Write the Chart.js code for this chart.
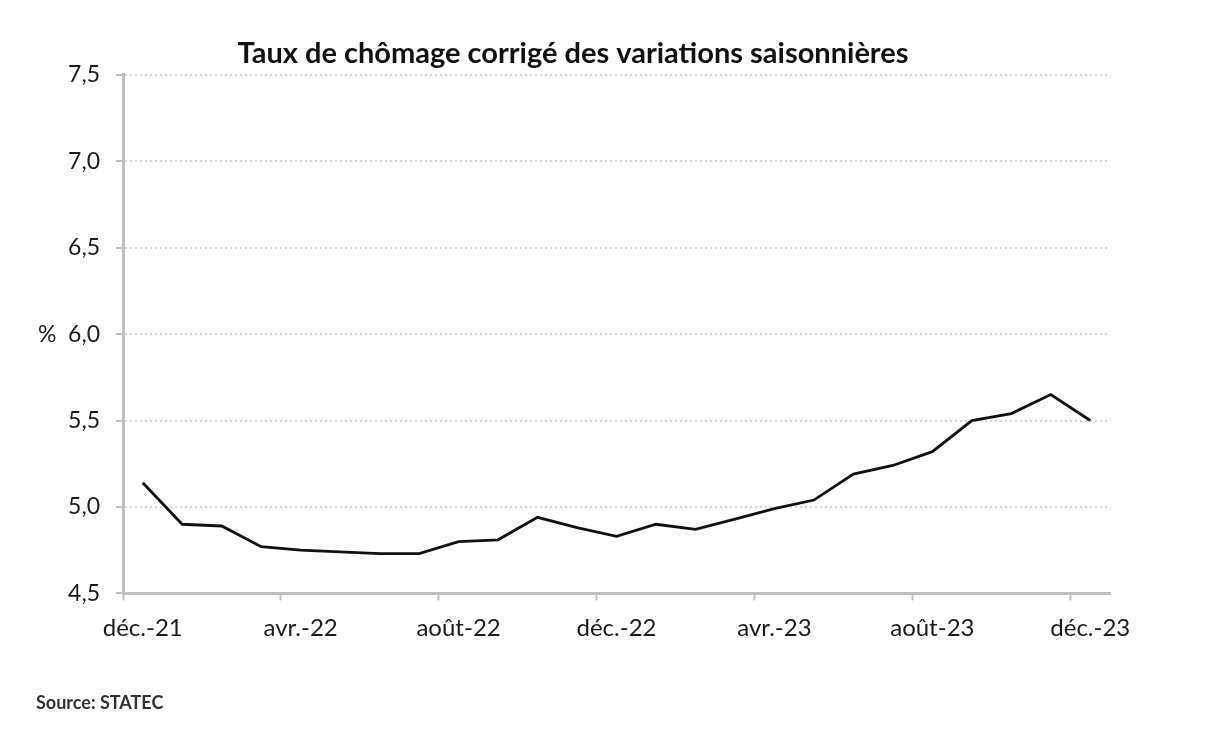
<!DOCTYPE html>
<html lang="fr">
<head>
<meta charset="utf-8">
<title>Taux de chômage</title>
<script src="https://cdn.jsdelivr.net/npm/chart.js@4.4.0/dist/chart.umd.min.js"></script>
<style>
    html, body { margin: 0; padding: 0; background: #ffffff; }
    canvas { display: block; }
</style>
</head>
<body>
<canvas id="chomage" width="1224" height="729"></canvas>
<script>
// months from déc.-21 to déc.-23
var months = [
    "déc.-21", "janv.-22", "févr.-22", "mars-22", "avr.-22", "mai-22", "juin-22",
    "juil.-22", "août-22", "sept.-22", "oct.-22", "nov.-22", "déc.-22",
    "janv.-23", "févr.-23", "mars-23", "avr.-23", "mai-23", "juin-23",
    "juil.-23", "août-23", "sept.-23", "oct.-23", "nov.-23", "déc.-23"
];

// unemployment rate, seasonally adjusted (%)
var tauxCvs = [
    5.14, 4.90, 4.89, 4.77, 4.75, 4.74, 4.73,
    4.73, 4.80, 4.81, 4.94, 4.88, 4.83,
    4.90, 4.87, 4.93, 4.99, 5.04, 5.19,
    5.24, 5.32, 5.50, 5.54, 5.65, 5.50
];

var yMin = 4.5;
var yMax = 7.5;
var yStep = 0.5;
var labelEvery = 4;

var titre = "Taux de chômage corrigé des variations saisonnières";
var source = "Source: STATEC";

var FONT = "Lato, 'Open Sans', sans-serif";
var AXIS_GREY = "#bfbfbf";

function frNumber(v) {
    return v.toFixed(1).replace(".", ",");
}

// only every 4th month gets a tick mark
function tickShown(ctx) {
    return ctx.index !== undefined && ctx.index % labelEvery === 0;
}

new Chart(document.getElementById("chomage"), {
    type: "line",
    data: {
        labels: months,
        datasets: [{
            label: "Taux de chômage",
            data: tauxCvs,
            borderColor: "#111111",
            borderWidth: 2.8,
            pointRadius: 0,
            tension: 0,
            fill: false
        }]
    },
    options: {
        responsive: false,
        animation: false,
        devicePixelRatio: 1,
        layout: {
            padding: { left: 36, right: 114, top: 0, bottom: 0 }
        },
        plugins: {
            legend: { display: false },
            tooltip: { enabled: false },
            title: {
                display: true,
                text: titre,
                color: "#111111",
                font: { family: FONT, size: 29, weight: "bold" },
                padding: { top: 36, bottom: 4 }
            },
            subtitle: {
                display: true,
                text: source,
                position: "bottom",
                align: "start",
                color: "#333333",
                font: { family: FONT, size: 18, weight: "bold" },
                padding: { top: 39, bottom: 15 }
            }
        },
        scales: {
            x: {
                type: "category",
                offset: true,
                afterFit: function (scale) { scale.height = 60; },
                grid: {
                    offset: true,
                    drawOnChartArea: false,
                    drawTicks: true,
                    tickLength: 7,
                    tickWidth: 2,
                    color: function (ctx) { return tickShown(ctx) ? AXIS_GREY : "rgba(0,0,0,0)"; },
                    tickColor: function (ctx) { return tickShown(ctx) ? AXIS_GREY : "rgba(0,0,0,0)"; }
                },
                border: { display: true, color: AXIS_GREY, width: 3 },
                ticks: {
                    autoSkip: false,
                    maxRotation: 0,
                    padding: 13,
                    color: "#1a1a1a",
                    font: { family: FONT, size: 24 },
                    callback: function (value, index) {
                        return index % labelEvery === 0 ? this.getLabelForValue(value) : "";
                    }
                }
            },
            y: {
                min: yMin,
                max: yMax,
                afterFit: function (scale) { scale.width = 87; },
                grid: {
                    drawOnChartArea: true,
                    drawTicks: true,
                    tickLength: 7,
                    tickWidth: 2,
                    color: "#d4d4d4",
                    lineWidth: 2,
                    tickColor: AXIS_GREY
                },
                border: { display: true, color: AXIS_GREY, width: 3, dash: [2, 3] },
                ticks: {
                    stepSize: yStep,
                    padding: 16,
                    color: "#1a1a1a",
                    font: { family: FONT, size: 23 },
                    callback: function (value) {
                        var txt = frNumber(value);
                        return value === 6 ? "%  " + txt : txt;
                    }
                }
            }
        }
    }
});
</script>
</body>
</html>
